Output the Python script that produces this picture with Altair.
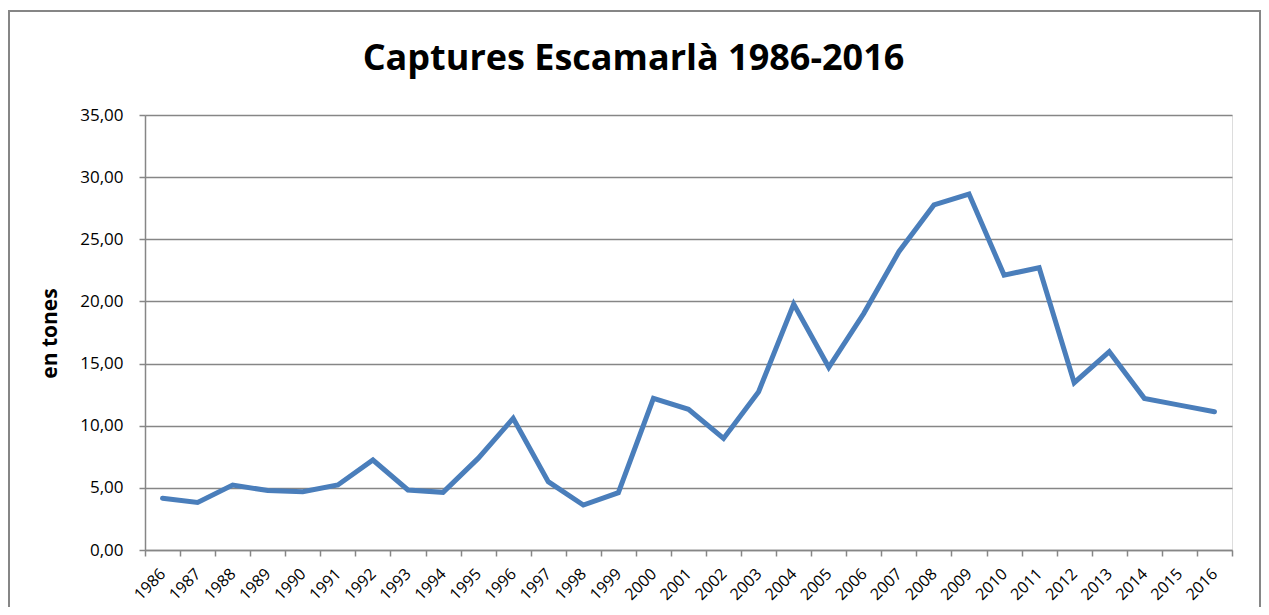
import altair as alt
import pandas as pd

years = [str(y) for y in range(1986, 2017)]
values = [4.16, 3.83, 5.23, 4.78, 4.69, 5.23, 7.24, 4.83, 4.64, 7.37,
          10.59, 5.50, 3.62, 4.61, 12.20, 11.32, 8.98, 12.74, 19.79, 14.70,
          19.04, 24.00, 27.76, 28.64, 22.12, 22.71, 13.46, 15.96, 12.20, 11.66,
          11.13]
y_ticks = [0, 5, 10, 15, 20, 25, 30, 35]

df = pd.DataFrame({"year": years, "value": values})

FONT = "Open Sans"
GRAY = "#868686"

line = alt.Chart(df).mark_line(color="#4A7EBB", strokeWidth=5, strokeJoin="miter", strokeCap="round").encode(
    x=alt.X("year:O", sort=years, bandPosition=0.5,
            scale=alt.Scale(type="band", paddingInner=0, paddingOuter=0),
            axis=alt.Axis(title=None, labelAngle=-45, labelAlign="right", labelBaseline="middle",
                          labelPadding=15, labelFontSize=16, labelFont=FONT, labelColor="#000000",
                          tickBand="extent", tickSize=6, tickColor=GRAY, domainColor=GRAY,
                          domainWidth=1.5, tickWidth=1.5, grid=False, labelOverlap=False)),
    y=alt.Y("value:Q", scale=alt.Scale(domain=[0, 35], nice=False),
            axis=alt.Axis(values=y_ticks, title="en tones", titleFont=FONT, titleFontSize=21,
                          titleFontWeight="bold", titleColor="#000000", titleX=-85, titleY=218,
                          labelExpr="replace(format(datum.value, '.2f'), '.', ',')",
                          labelFont=FONT, labelFontSize=17, labelColor="#000000", labelPadding=16,
                          tickSize=6, tickColor=GRAY, domainColor=GRAY, domainWidth=1.5,
                          tickWidth=1.5, gridColor=GRAY, gridWidth=1.3)),
)

frame = alt.Chart(pd.DataFrame({"a": [0]})).mark_rect(fill=None, stroke=GRAY, strokeWidth=2).encode(
    x=alt.value(-136), x2=alt.value(1115), y=alt.value(-104), y2=alt.value(520)
)

chart = alt.layer(frame, line).properties(
    width=1087,
    height=435,
    title=alt.TitleParams("Captures Escamarlà 1986-2016", font=FONT, fontSize=36, fontWeight="bold",
                          color="#000000", anchor="middle", dx=-55, baseline="alphabetic", offset=-96),
    autosize=alt.AutoSizeParams(type="none"),
    padding={"left": 137, "top": 107, "right": 29, "bottom": 57},
).configure_view(stroke=None).configure(background="white")

chart.save("out.html", embed_options={"renderer": "svg", "actions": False})
